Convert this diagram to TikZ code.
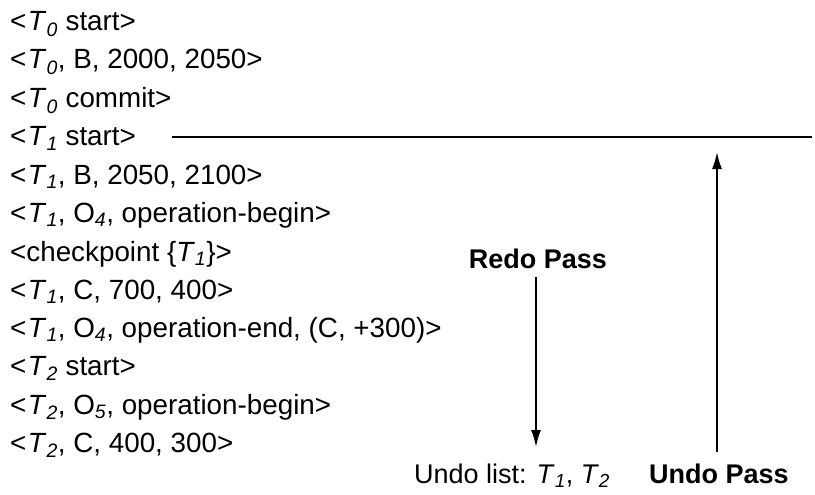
\documentclass[tikz,border=0pt]{standalone}
\usepackage{fontspec}
\setmainfont{Liberation Sans}
\usetikzlibrary{arrows.meta,positioning}
\newcommand{\tr}[1]{\textit{T}\textsubscript{\textit{#1}}}
\newcommand{\ob}[1]{O\textsubscript{\textit{#1}}}
\newcommand{\lt}{<\kern1.5pt}

\begin{document}
\begin{tikzpicture}[
  x=1pt, y=-1pt,
  font=\fontsize{27.8}{32}\selectfont,
  entry/.style={anchor=base west, inner sep=0pt},
  pass/.style={anchor=base, inner sep=0pt},
  arr/.style={-{Latex[length=17pt,width=10pt]}, line width=1.8pt}
]
  \useasboundingbox (0,0) rectangle (815,495);
  % log records
  \node[entry] (t0s)  at (10,31)  {\lt\tr{0} start>};
  \node[entry] (t0b)  at (10,69)  {\lt\tr{0}, B, 2000, 2050>};
  \node[entry] (t0c)  at (10,108) {\lt\tr{0} commit>};
  \node[entry] (t1s)  at (10,146) {\lt\tr{1} start>};
  \node[entry] (t1b)  at (10,184) {\lt\tr{1}, B, 2050, 2100>};
  \node[entry] (t1ob) at (10,222) {\lt\tr{1}, \ob{4}, operation-begin>};
  \node[entry] (ckpt) at (10,261) {<checkpoint \{\tr{1}\}>};
  \node[entry] (t1c)  at (10,299) {\lt\tr{1}, C, 700, 400>};
  \node[entry] (t1oe) at (10,337) {\lt\tr{1}, \ob{4}, operation-end, (C, +300)>};
  \node[entry] (t2s)  at (10,375) {\lt\tr{2} start>};
  \node[entry] (t2ob) at (10,414) {\lt\tr{2}, \ob{5}, operation-begin>};
  \node[entry] (t2c)  at (10,452) {\lt\tr{2}, C, 400, 300>};
  % passes
  \node[pass,font=\fontsize{27}{32}\selectfont\bfseries] (redo) at (538,268) {Redo Pass};
  \node[pass,font=\fontsize{27}{32}\selectfont] (undolist) at (512,483) {Undo list: \tr{1}, \tr{2}};
  \node[pass,font=\fontsize{27}{32}\selectfont\bfseries] (undopass) at (719,483) {Undo Pass};
  \coordinate (cutl) at (172,137);
  \coordinate (cutr) at (812,137);
  \coordinate (redotip) at (536,447);
  \coordinate (undotip) at (717,152);
  \draw[line width=1.4pt] (cutl) -- (cutr);
  \draw[arr] ([xshift=-2pt,yshift=-9pt]redo.south) -- (redotip);
  \draw[arr] ([xshift=-2pt,yshift=11pt]undopass.north) -- (undotip);
\end{tikzpicture}
\end{document}
